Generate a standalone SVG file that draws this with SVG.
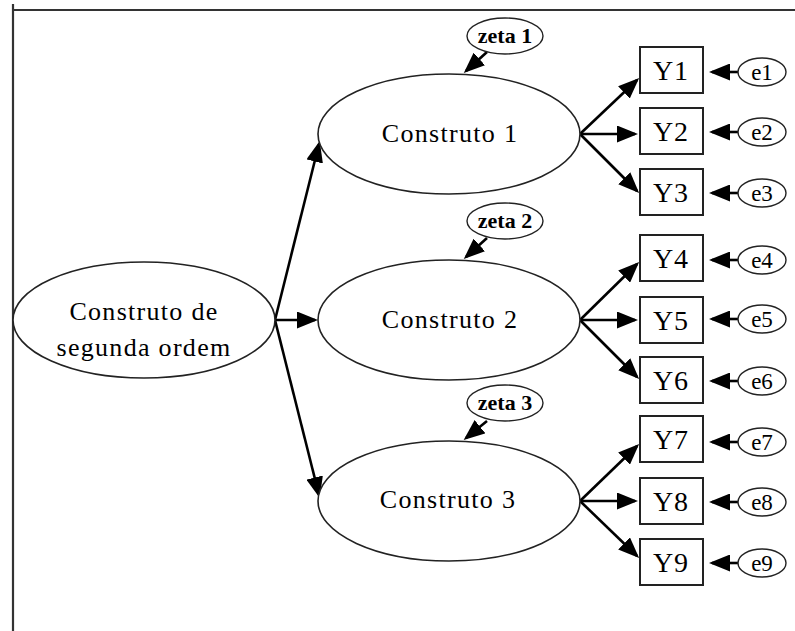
<svg xmlns="http://www.w3.org/2000/svg" width="795" height="631" viewBox="0 0 795 631">
<defs>
<style>
.frame{stroke:#333;stroke-width:2.2;fill:none}
.lat{fill:#fff;stroke:#222;stroke-width:1.6}
.obs{fill:#fff;stroke:#222;stroke-width:2}
.err{fill:#fff;stroke:#222;stroke-width:1.4}
.con{stroke:#000;stroke-width:2.6;fill:none;marker-end:url(#ah)}
.big{font-family:"Liberation Serif","Times New Roman",serif;font-size:26px;letter-spacing:1.3px;fill:#000;text-anchor:middle}
.yl{font-family:"Liberation Serif","Times New Roman",serif;font-size:28px;letter-spacing:1px;fill:#000;text-anchor:middle}
.zt{font-family:"Liberation Serif","Times New Roman",serif;font-size:22px;font-weight:bold;fill:#000;text-anchor:middle}
.et{font-family:"Liberation Serif","Times New Roman",serif;font-size:23px;fill:#000;text-anchor:middle}
</style>
<marker id="ah" markerUnits="userSpaceOnUse" markerWidth="21" markerHeight="17" refX="18" refY="8.5" orient="auto">
<path d="M0,0 L21,8.5 L0,17 z" fill="#000"/>
</marker>
</defs>
<rect width="795" height="631" fill="#fff"/>
<g id="frame">
<line class="frame" x1="12" y1="10" x2="795" y2="10"/>
<line class="frame" x1="13" y1="4" x2="13" y2="631"/>
</g>
<g id="connectors">
<path class="con" d="M275,320 L319,144"/>
<path class="con" d="M275,320 L315,320"/>
<path class="con" d="M275,320 L319,495"/>
<path class="con" d="M580,134 L637,80"/>
<path class="con" d="M580,134 L635,134"/>
<path class="con" d="M580,134 L637,191"/>
<path class="con" d="M580,320 L637,264"/>
<path class="con" d="M580,320 L635,320"/>
<path class="con" d="M580,320 L637,377"/>
<path class="con" d="M580,501 L637,446"/>
<path class="con" d="M580,501 L635,501"/>
<path class="con" d="M580,501 L637,556"/>
<path class="con" d="M739,72 L712,72"/>
<path class="con" d="M739,132 L712,132"/>
<path class="con" d="M739,193 L712,193"/>
<path class="con" d="M739,260 L712,260"/>
<path class="con" d="M739,319 L712,319"/>
<path class="con" d="M739,381 L712,381"/>
<path class="con" d="M739,442 L712,442"/>
<path class="con" d="M739,502 L712,502"/>
<path class="con" d="M739,563 L712,563"/>
<path class="con" d="M487,52 L466,71"/>
<path class="con" d="M487,238 L466,257"/>
<path class="con" d="M487,421 L466,438"/>
</g>
<g id="so">
<ellipse class="lat" cx="144" cy="320" rx="131" ry="58"/>
<text class="big" x="144" y="320">Construto de</text>
<text class="big" x="144" y="356">segunda ordem</text>
</g>
<g id="c1">
<ellipse class="lat" cx="449" cy="134" rx="131" ry="60"/>
<text class="big" x="450" y="142">Construto 1</text>
</g>
<g id="c2">
<ellipse class="lat" cx="449" cy="320" rx="131" ry="60"/>
<text class="big" x="450" y="328">Construto 2</text>
</g>
<g id="c3">
<ellipse class="lat" cx="449" cy="501" rx="131" ry="60"/>
<text class="big" x="448" y="508">Construto 3</text>
</g>
<g id="zeta1"><ellipse class="err" cx="505" cy="36" rx="38" ry="18"/><text class="zt" x="505" y="43">zeta 1</text></g>
<g id="zeta2"><ellipse class="err" cx="505" cy="221" rx="38" ry="18"/><text class="zt" x="505" y="228">zeta 2</text></g>
<g id="zeta3"><ellipse class="err" cx="505" cy="403" rx="38" ry="18"/><text class="zt" x="505" y="410">zeta 3</text></g>
<g id="y1"><rect class="obs" x="640" y="47" width="63" height="46"/><text class="yl" x="671" y="80">Y1</text></g>
<g id="y2"><rect class="obs" x="640" y="108" width="63" height="46"/><text class="yl" x="671" y="141">Y2</text></g>
<g id="y3"><rect class="obs" x="640" y="169" width="63" height="46"/><text class="yl" x="671" y="202">Y3</text></g>
<g id="y4"><rect class="obs" x="640" y="235" width="63" height="46"/><text class="yl" x="671" y="268">Y4</text></g>
<g id="y5"><rect class="obs" x="640" y="297" width="63" height="46"/><text class="yl" x="671" y="330">Y5</text></g>
<g id="y6"><rect class="obs" x="640" y="357" width="63" height="46"/><text class="yl" x="671" y="390">Y6</text></g>
<g id="y7"><rect class="obs" x="640" y="416" width="63" height="46"/><text class="yl" x="671" y="449">Y7</text></g>
<g id="y8"><rect class="obs" x="640" y="478" width="63" height="46"/><text class="yl" x="671" y="511">Y8</text></g>
<g id="y9"><rect class="obs" x="640" y="539" width="63" height="46"/><text class="yl" x="671" y="572">Y9</text></g>
<g id="e1"><ellipse class="err" cx="762" cy="72" rx="24" ry="14"/><text class="et" x="762" y="80">e1</text></g>
<g id="e2"><ellipse class="err" cx="762" cy="132" rx="24" ry="14"/><text class="et" x="762" y="140">e2</text></g>
<g id="e3"><ellipse class="err" cx="762" cy="193" rx="24" ry="14"/><text class="et" x="762" y="201">e3</text></g>
<g id="e4"><ellipse class="err" cx="762" cy="260" rx="24" ry="14"/><text class="et" x="762" y="268">e4</text></g>
<g id="e5"><ellipse class="err" cx="762" cy="319" rx="24" ry="14"/><text class="et" x="762" y="327">e5</text></g>
<g id="e6"><ellipse class="err" cx="762" cy="381" rx="24" ry="14"/><text class="et" x="762" y="389">e6</text></g>
<g id="e7"><ellipse class="err" cx="762" cy="442" rx="24" ry="14"/><text class="et" x="762" y="450">e7</text></g>
<g id="e8"><ellipse class="err" cx="762" cy="502" rx="24" ry="14"/><text class="et" x="762" y="510">e8</text></g>
<g id="e9"><ellipse class="err" cx="762" cy="563" rx="24" ry="14"/><text class="et" x="762" y="571">e9</text></g>
</svg>
